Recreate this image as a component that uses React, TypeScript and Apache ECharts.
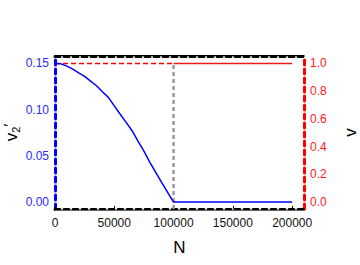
import React, { useEffect, useRef } from "react";
import * as echarts from "echarts";

const nValues = [0, 5000, 10000, 15000, 20000, 25000, 30000, 35000, 40000, 45000, 50000, 55000, 60000, 65000, 70000, 75000, 80000, 85000, 90000, 95000, 100000, 200000];
const v2Values = [0.15, 0.1495, 0.147, 0.1438, 0.1398, 0.136, 0.1308, 0.1258, 0.1193, 0.1132, 0.104, 0.095, 0.0862, 0.0772, 0.066, 0.055, 0.043, 0.032, 0.021, 0.0105, 0.0, 0.0];
const vSolidN = [100000, 200000];
const vSolidValues = [1, 1];
const vDashedN = [0, 100000];
const vDashedValues = [1, 1];
const markerN = [100000, 100000];
const markerV2 = [-0.0075, 0.15];
const xTicks = [0, 50000, 100000, 150000, 200000];
const leftTicks = [0, 0.05, 0.1, 0.15];
const rightTicks = [0, 0.2, 0.4, 0.6, 0.8, 1.0];

const FONT = "Liberation Sans";

export default function App() {
  const ref = useRef<HTMLDivElement>(null);
  useEffect(() => {
    if (!ref.current) return;
    const chart = echarts.init(ref.current, null, { renderer: "svg" });
    const xRange = { min: 0, max: 210000 };
    const dashedFrame = (color: string) => ({
      show: true,
      onZero: false,
      lineStyle: { color, width: 3, type: [5, 4] as number[] },
    });
    chart.setOption({
      animation: false,
      grid: { left: 55, right: 56, top: 56, bottom: 56, outerBoundsMode: "none", containLabel: false },
      xAxis: [
        {
          type: "value",
          position: "bottom",
          ...xRange,
          axisLine: dashedFrame("#000"),
          axisTick: { show: true, inside: true, length: 3, customValues: xTicks, lineStyle: { color: "#000", width: 1 } },
          axisLabel: {
            customValues: xTicks,
            color: "#111",
            fontSize: 12,
            fontFamily: FONT,
            margin: 8,
            formatter: (v: number) => String(v),
          },
          splitLine: { show: false },
          name: "N",
          nameLocation: "middle",
          nameGap: 30,
          nameTextStyle: { fontSize: 17, color: "#000", fontFamily: FONT },
        },
        {
          type: "value",
          position: "top",
          ...xRange,
          axisLine: dashedFrame("#000"),
          axisTick: { show: false },
          axisLabel: { show: false },
          splitLine: { show: false },
        },
        {
          type: "value",
          position: "bottom",
          offset: 1,
          ...xRange,
          axisLine: { show: true, onZero: false, lineStyle: { color: "#666", width: 1 } },
          axisTick: { show: false },
          axisLabel: { show: false },
          splitLine: { show: false },
        },
        {
          type: "value",
          position: "top",
          offset: 1,
          ...xRange,
          axisLine: { show: true, onZero: false, lineStyle: { color: "#000", width: 1 } },
          axisTick: { show: false },
          axisLabel: { show: false },
          splitLine: { show: false },
        },
      ],
      yAxis: [
        {
          type: "value",
          position: "left",
          min: -0.0075,
          max: 0.158,
          axisLine: dashedFrame("#0000ff"),
          axisTick: { show: false },
          axisLabel: {
            customValues: leftTicks,
            color: "#2a2aff",
            fontSize: 12,
            fontFamily: FONT,
            margin: 6,
            formatter: (v: number) => v.toFixed(2),
          },
          splitLine: { show: false },
          name: "{v|v}{s|2}{p|′}",
          nameLocation: "middle",
          nameRotate: 90,
          nameGap: 34,
          nameMoveOverlap: false,
          nameTextStyle: {
            color: "#000",
            rich: {
              v: { fontSize: 17, fontFamily: FONT, color: "#000", lineHeight: 20 },
              s: { fontSize: 11, fontFamily: FONT, color: "#000", verticalAlign: "bottom", lineHeight: 12 },
              p: { fontSize: 15, fontFamily: FONT, color: "#000", verticalAlign: "top", lineHeight: 14 },
            },
          },
        },
        {
          type: "value",
          position: "right",
          min: -0.05,
          max: 1.0533,
          axisLine: dashedFrame("#ff0000"),
          axisTick: { show: false },
          axisLabel: {
            customValues: rightTicks,
            color: "#ff1a1a",
            fontSize: 12,
            fontFamily: FONT,
            margin: 6,
            formatter: (v: number) => v.toFixed(1),
          },
          splitLine: { show: false },
          name: "v",
          nameLocation: "middle",
          nameRotate: 90,
          nameGap: 38,
          nameTextStyle: { fontSize: 17, color: "#000", fontFamily: FONT },
        },
      ],
      series: [
        {
          type: "line",
          xAxisIndex: 0,
          yAxisIndex: 0,
          data: markerN.map((n, i) => [n, markerV2[i]]),
          showSymbol: false,
          lineStyle: { color: "#999", width: 2.5, type: [4, 3] },
          z: 1,
        },
        {
          type: "line",
          xAxisIndex: 0,
          yAxisIndex: 1,
          data: vDashedN.map((n, i) => [n, vDashedValues[i]]),
          showSymbol: false,
          lineStyle: { color: "#ff0000", width: 1.5, type: [5, 3] },
          z: 2,
        },
        {
          type: "line",
          xAxisIndex: 0,
          yAxisIndex: 1,
          data: vSolidN.map((n, i) => [n, vSolidValues[i]]),
          showSymbol: false,
          lineStyle: { color: "#ee1c1c", width: 1.5 },
          z: 2,
        },
        {
          type: "line",
          xAxisIndex: 0,
          yAxisIndex: 0,
          data: nValues.map((n, i) => [n, v2Values[i]]),
          showSymbol: false,
          lineStyle: { color: "#0000ff", width: 1.5 },
          z: 3,
        },
      ],
    });
    return () => chart.dispose();
  }, []);
  return <div ref={ref} style={{ position: "absolute", left: 0, top: 0, width: 360, height: 265 }} />;
}
